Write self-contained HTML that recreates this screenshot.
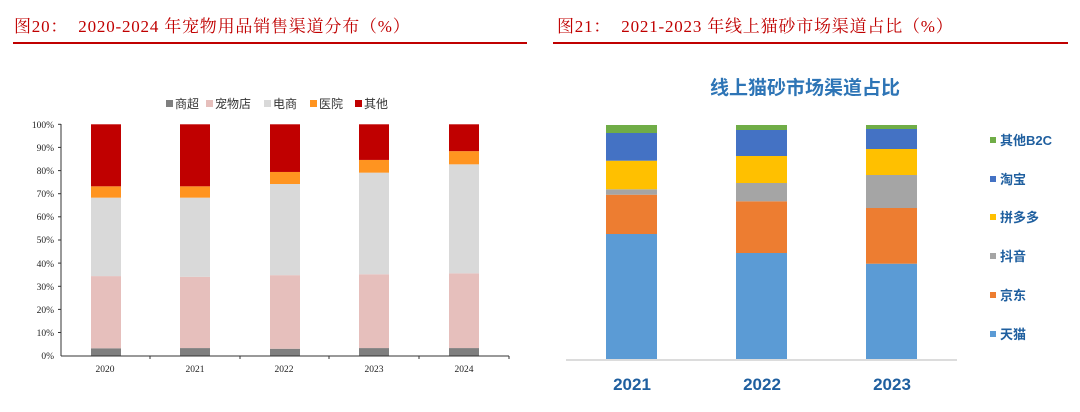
<!DOCTYPE html>
<html><head><meta charset="utf-8"><style>
body{margin:0;width:1080px;height:412px;background:#fff;overflow:hidden;position:relative;font-family:"Liberation Serif","Noto Serif CJK SC",serif}
.h{position:absolute;top:12px;color:#c00000;font-size:17px;letter-spacing:0.8px;white-space:nowrap}
.l{position:absolute;top:42px;height:1.5px;background:#c00000}
</style></head><body>
<div class="h" style="left:14px">图20：&nbsp; 2020-2024 年宠物用品销售渠道分布（%）</div>
<div class="l" style="left:13px;width:514px"></div>
<div class="h" style="left:557px">图21：&nbsp; 2021-2023 年线上猫砂市场渠道占比（%）</div>
<div class="l" style="left:553px;width:515px"></div>
<svg width="1080" height="412" style="position:absolute;left:0;top:0">
<g font-family="Liberation Sans,Noto Sans CJK SC,sans-serif" font-size="12" fill="#333">
<rect x="166" y="100" width="7" height="7" fill="#7f7f7f"/><text x="175" y="108">商超</text>
<rect x="206" y="100" width="7" height="7" fill="#e6bfbc"/><text x="215" y="108">宠物店</text>
<rect x="264" y="100" width="7" height="7" fill="#d9d9d9"/><text x="273" y="108">电商</text>
<rect x="310" y="100" width="7" height="7" fill="#ff9420"/><text x="319" y="108">医院</text>
<rect x="355" y="100" width="7" height="7" fill="#c00000"/><text x="364" y="108">其他</text>
</g>
<g font-family="Liberation Serif,serif" font-size="9.5" fill="#222" text-anchor="end">
<text x="54" y="128">100%</text><text x="54" y="151">90%</text><text x="54" y="174">80%</text><text x="54" y="197">70%</text><text x="54" y="220">60%</text><text x="54" y="243">50%</text><text x="54" y="267">40%</text><text x="54" y="290">30%</text><text x="54" y="313">20%</text><text x="54" y="336">10%</text><text x="54" y="359">0%</text>
</g>
<g font-family="Liberation Serif,serif" font-size="9.5" fill="#222" text-anchor="middle">
<text x="105" y="372">2020</text><text x="195" y="372">2021</text><text x="284" y="372">2022</text><text x="374" y="372">2023</text><text x="464" y="372">2024</text>
</g>
<g id="bars"></g>
<line x1="61" y1="124" x2="61" y2="356" stroke="#333"/>
<line x1="61" y1="356" x2="509" y2="356" stroke="#333"/>
<g stroke="#333"><line x1="58" y1="124.3" x2="61" y2="124.3"/><line x1="58" y1="147.4" x2="61" y2="147.4"/><line x1="58" y1="170.6" x2="61" y2="170.6"/><line x1="58" y1="193.7" x2="61" y2="193.7"/><line x1="58" y1="216.8" x2="61" y2="216.8"/><line x1="58" y1="240" x2="61" y2="240"/><line x1="58" y1="263.1" x2="61" y2="263.1"/><line x1="58" y1="286.3" x2="61" y2="286.3"/><line x1="58" y1="309.4" x2="61" y2="309.4"/><line x1="58" y1="332.5" x2="61" y2="332.5"/>
<line x1="150" y1="356" x2="150" y2="359"/><line x1="240" y1="356" x2="240" y2="359"/><line x1="329" y1="356" x2="329" y2="359"/><line x1="419" y1="356" x2="419" y2="359"/><line x1="509" y1="356" x2="509" y2="359"/></g>
<text x="805" y="94" text-anchor="middle" font-family="Liberation Sans,Noto Sans CJK SC,sans-serif" font-size="19" font-weight="bold" fill="#2e75b6">线上猫砂市场渠道占比</text>
<line x1="566" y1="360" x2="957" y2="360" stroke="#d0d0d0" stroke-width="1.5"/>
<g font-family="Liberation Sans,sans-serif" font-size="17" font-weight="bold" fill="#1f5f9f" text-anchor="middle">
<text x="632" y="390">2021</text><text x="762" y="390">2022</text><text x="892" y="390">2023</text>
</g>
<g font-family="Liberation Sans,Noto Sans CJK SC,sans-serif" font-size="13" font-weight="bold" fill="#1f5f9f">
<rect x="990" y="137" width="6" height="6" fill="#70ad47"/><text x="1000" y="145">其他B2C</text>
<rect x="990" y="176" width="6" height="6" fill="#4472c4"/><text x="1000" y="184">淘宝</text>
<rect x="990" y="214" width="6" height="6" fill="#ffc000"/><text x="1000" y="222">拼多多</text>
<rect x="990" y="253" width="6" height="6" fill="#a5a5a5"/><text x="1000" y="261">抖音</text>
<rect x="990" y="292" width="6" height="6" fill="#ed7d31"/><text x="1000" y="300">京东</text>
<rect x="990" y="331" width="6" height="6" fill="#5b9bd5"/><text x="1000" y="339">天猫</text>
</g>
<g id="bars2"></g>
</svg>
<script>
var ns="http://www.w3.org/2000/svg";
function r(g,x,y1,w,y2,c){var e=document.createElementNS(ns,"rect");e.setAttribute("x",x);e.setAttribute("y",y2);e.setAttribute("width",w);e.setAttribute("height",y1-y2);e.setAttribute("fill",c);document.getElementById(g).appendChild(e);}
var L=[[91,3.2,34.4,68.3,73.2],[180,3.3,34.1,68.3,73.2],[270,3.0,34.8,74.2,79.4],[359,3.3,35.2,79.1,84.6],[449,3.3,35.6,82.7,88.4]];
var C=["#7f7f7f","#e6bfbc","#d9d9d9","#ff9420","#c00000"];
L.forEach(function(b){var v=[0,b[1],b[2],b[3],b[4],100];for(var i=0;i<5;i++){r("bars",b[0],355.7-v[i]*2.314,30,355.7-v[i+1]*2.314,C[i]);}});
var R=[[606,[359,234,194.7,189.3,160.7,133,125]],[736,[359,253,201.3,183,156,130,125]],[866,[359,263.7,208,175,149,129,125]]];
var C2=["#5b9bd5","#ed7d31","#a5a5a5","#ffc000","#4472c4","#70ad47"];
R.forEach(function(b){for(var i=0;i<6;i++)r("bars2",b[0],b[1][i],51,b[1][i+1],C2[i]);});
</script>
</body></html>
